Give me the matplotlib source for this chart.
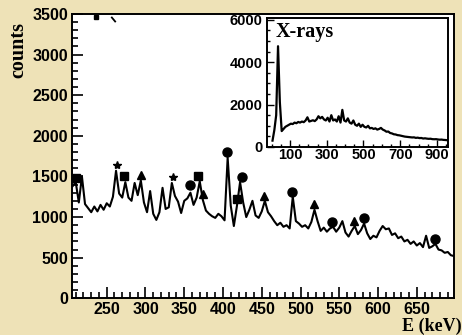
import numpy as np
import matplotlib.pyplot as plt
from matplotlib.ticker import MultipleLocator, FixedLocator

BG = "#eee2b7"

# main gamma spectrum, 4 keV bins starting at 204 keV
bin_start = 204
bin_width = 4
counts = [1380, 1430, 1180, 1500, 1160, 1110, 1060, 1130, 1070, 1150,
          1090, 1170, 1130, 1250, 1570, 1290, 1240, 1430, 1240, 1200,
          1420, 1270, 1450, 1180, 1060, 1320, 1040, 965, 1060, 1360,
          1100, 1120, 1420, 1260, 1190, 1050, 1200, 1230, 1300, 1150,
          1240, 1440, 1210, 1080, 1040, 1010, 990, 1040, 1010, 960,
          1730, 1140, 890, 1140, 1430, 1180, 1000, 1090, 1200, 1020,
          990, 1070, 1200, 1060, 1010, 950, 900, 930, 880, 900,
          860, 1250, 950, 920, 880, 900, 860, 940, 1090, 950,
          830, 870, 820, 860, 880, 820, 870, 950, 810, 760,
          830, 890, 790, 840, 920, 800, 730, 770, 750, 830,
          890, 850, 860, 780, 800, 740, 760, 700, 720, 670,
          700, 650, 680, 630, 770, 620, 640, 670, 600, 590,
          560, 570, 530, 520]

# peak identification markers
sq_e = [210, 272, 368, 418]
sq_c = [1480, 1500, 1505, 1224]
star_e = [263, 335]
star_c = [1640, 1495]
tri_e = [294, 374, 453, 518, 569]
tri_c = [1515, 1290, 1255, 1160, 950]
circ_e = [357, 405, 424, 489, 540, 582, 673]
circ_c = [1400, 1795, 1495, 1310, 945, 985, 730]

# stray marks near the top of the frame
stray_e = [236]
stray_c = [3465]
slash_e = [258]
slash_c = [3440]

# inset: X-ray gated spectrum, 10 keV bins from 0
xr_start = 0
xr_width = 10
xr_counts = [300, 800, 1500, 4750, 2100, 750, 850, 950, 1000, 1050,
             1100, 1080, 1150, 1120, 1180, 1150, 1200, 1170, 1250, 1400,
             1200, 1230, 1260, 1220, 1300, 1450, 1350, 1420, 1300, 1250,
             1380, 1200, 1500, 1250, 1300, 1200, 1450, 1150, 1750, 1250,
             1200, 1350, 1150, 1100, 1250, 1050, 1000, 1100, 950, 1050,
             950, 920, 1000, 880, 900, 850, 880, 820, 850, 900,
             820, 780, 720, 730, 660, 640, 600, 590, 560, 550,
             530, 510, 490, 480, 470, 460, 450, 455, 430, 440,
             420, 425, 400, 410, 395, 385, 390, 370, 365, 370,
             355, 345, 350, 335, 330, 320]

tick_font = {"family": "Liberation Sans", "weight": "bold"}
label_font = {"family": "Liberation Serif", "weight": "bold"}

fig = plt.figure(figsize=(4.62, 3.35), dpi=100)
fig.patch.set_facecolor(BG)

W, H = 462, 335
ax = fig.add_axes([72 / W, 1 - 298.3 / H, (454 - 72) / W, (298.3 - 14) / H])
ax.set_facecolor("white")

centres = bin_start + bin_width * (np.arange(len(counts)) + 0.5)
ax.plot(centres, counts, color="black", lw=1.5)

ax.plot(sq_e, sq_c, "s", color="black", ms=6, ls="none")
ax.plot(star_e, star_c, "*", color="black", ms=6, ls="none")
ax.plot(tri_e, tri_c, "^", color="black", ms=6, ls="none")
ax.plot(circ_e, circ_c, "o", color="black", ms=6.5, ls="none")
ax.plot(stray_e, stray_c, "s", color="black", ms=2.5, ls="none")
ax.plot(slash_e, slash_c, marker=(2, 0, 40), color="black", ms=5, mew=1.3, ls="none")

ax.set_xlim(205.2, 698)
ax.set_ylim(0, 3500)
ax.xaxis.set_major_locator(FixedLocator([250, 300, 350, 400, 450, 500, 550, 600, 650]))
ax.xaxis.set_minor_locator(MultipleLocator(10))
ax.yaxis.set_major_locator(MultipleLocator(500))
ax.yaxis.set_minor_locator(MultipleLocator(100))
ax.tick_params(which="both", direction="in", top=False, right=False, width=1.2, color="black")
ax.tick_params(which="major", length=8)
ax.tick_params(which="minor", length=4)
ax.tick_params(axis="x", pad=3)
ax.tick_params(axis="y", pad=3)
for lab in ax.get_xticklabels() + ax.get_yticklabels():
    lab.set_fontproperties(tick_font)
    lab.set_fontsize(11.5)
for s in ax.spines.values():
    s.set_linewidth(1.4)

fig.text(18.5 / W, 1 - 50 / H, "counts", rotation=90, ha="center", va="center",
         fontsize=14.5, **label_font)
fig.text(462 / W, 1 - 326 / H, "E (keV)", ha="right", va="center",
         fontsize=13, **label_font)

# inset
ins = fig.add_axes([267 / W, 1 - 147 / H, (448 - 267) / W, (147 - 18) / H])
ins.set_facecolor("white")
xr_centres = xr_start + xr_width * (np.arange(len(xr_counts)) + 0.5)
ins.plot(xr_centres, xr_counts, color="black", lw=1.6)
ins.set_xlim(-25, 960)
ins.set_ylim(0, 6080)
ins.xaxis.set_major_locator(FixedLocator([100, 300, 500, 700, 900]))
ins.xaxis.set_minor_locator(MultipleLocator(50))
ins.yaxis.set_major_locator(MultipleLocator(2000))
ins.yaxis.set_minor_locator(MultipleLocator(500))
ins.tick_params(which="both", direction="in", top=False, right=False, width=1.0)
ins.tick_params(which="major", length=5)
ins.tick_params(which="minor", length=2.5)
ins.tick_params(axis="x", pad=1)
ins.tick_params(axis="y", pad=3)
for lab in ins.get_xticklabels() + ins.get_yticklabels():
    lab.set_fontproperties(tick_font)
    lab.set_fontsize(10.5)
for s in ins.spines.values():
    s.set_linewidth(1.4)
ins.text(0.05, 0.97, "X-rays", transform=ins.transAxes, ha="left", va="top",
         fontsize=14.5, **label_font)

fig.savefig("out.png", dpi=100, facecolor=BG)
